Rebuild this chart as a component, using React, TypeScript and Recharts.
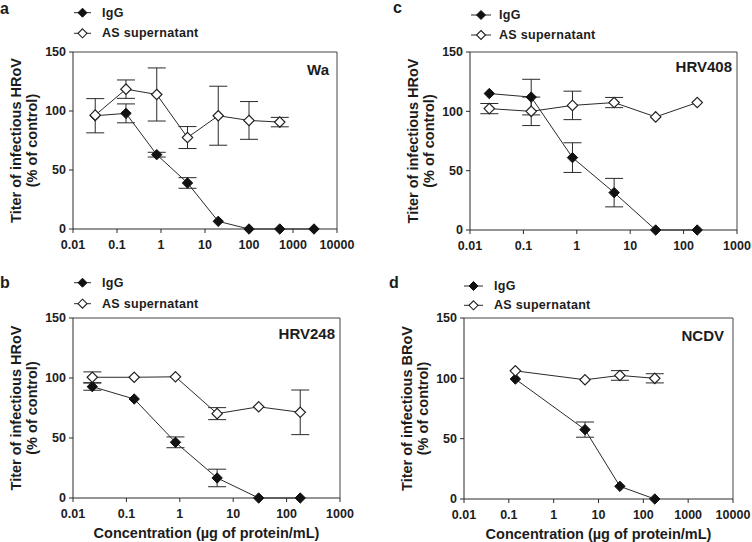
import React from "react";
import { ErrorBar, Line, LineChart, ReferenceLine, XAxis, YAxis } from "recharts";

const FONT = '"Liberation Sans", Arial, Helvetica, sans-serif';
const INK = "#1c1c1c";
const LINE = "#2a2a2a";

// panel a – Wa
const waDose = [0.032, 0.16, 0.8, 4, 20, 100, 500, 3000];
const waIgG = [96, 98, 63, 39, 6.5, 0, 0, 0];
const waIgGErr = [14.5, 8, 2, 4.5, null, null, null, null];
const waAsDose = [0.032, 0.16, 0.8, 4, 20, 100, 500];
const waAs = [96.5, 118.5, 114, 77.5, 96, 92, 90.6];
const waAsErr = [null, 7.8, 22.5, 9.3, 25, 16, 4];

// panel c – HRV408
const h408Dose = [0.023, 0.14, 0.83, 5, 30, 180];
const h408IgG = [115, 112, 61, 31.5, 0, 0];
const h408IgGErr = [null, 15, 12.5, 12, null, null];
const h408As = [102.3, 100, 105, 107.4, 95.3, 107.4];
const h408AsErr = [4.3, 12, 12, 4.3, null, null];

// panel b – HRV248
const h248Dose = [0.023, 0.14, 0.83, 5, 30, 180];
const h248IgG = [92.8, 82.5, 46.4, 16.7, 0, 0];
const h248IgGErr = [3, null, 4.5, 7.3, null, null];
const h248As = [100.6, 100.6, 101, 70.3, 76, 71.4];
const h248AsErr = [4.5, null, null, 5, null, 18.6];

// panel d – NCDV
const ncdvDose = [0.14, 5, 30, 180];
const ncdvIgG = [99.4, 57.5, 10.5, 0];
const ncdvIgGErr = [null, 6.3, null, null];
const ncdvAs = [106.2, 98.8, 102.4, 100];
const ncdvAsErr = [null, null, 4, 3.8];

const ticks10k = [0.01, 0.1, 1, 10, 100, 1000, 10000];
const ticks1k = [0.01, 0.1, 1, 10, 100, 1000];
const yTicks = [0, 50, 100, 150];

const X_TITLE = "Concentration (µg of protein/mL)";

type Row = { x: number; y: number; err?: number };

function rows(dose: number[], val: number[], err: (number | null)[]): Row[] {
  return dose.map((x, i) => ({ x, y: val[i], err: err[i] ?? undefined }));
}

function diamond(cx: number, cy: number, r: number) {
  return `M${cx},${cy - r}L${cx + r},${cy}L${cx},${cy + r}L${cx - r},${cy}Z`;
}

const filledDot = (p: any) => (
  <path key={p.key ?? `f${p.index}`} d={diamond(p.cx, p.cy, 5.2)} fill="#111" stroke="#111" strokeWidth={1} />
);
const openDot = (p: any) => (
  <path key={p.key ?? `o${p.index}`} d={diamond(p.cx, p.cy, 5.2)} fill="#fff" stroke="#222" strokeWidth={1.2} />
);

const tickStyle = { fill: INK, fontSize: 12.5, fontWeight: 700, fontFamily: FONT };

type PanelProps = {
  plot: { l: number; t: number; r: number; b: number };
  xMax: number;
  ticks: number[];
  igg: Row[];
  as: Row[];
  yTitle: string;
  xTitle?: boolean;
};

const RIGHT_PAD = 30;

function Panel({ plot, xMax, ticks, igg, as, yTitle, xTitle }: PanelProps) {
  const left = plot.l - 70;
  const top = plot.t - 10;
  const width = plot.r - left + RIGHT_PAD;
  const height = plot.b - top + 50;
  const plotH = plot.b - plot.t;
  const plotW = plot.r - plot.l;
  return (
    <div style={{ position: "absolute", left, top, width, height }}>
      <LineChart width={width} height={height} margin={{ top: 10, right: RIGHT_PAD, left: 20, bottom: 6 }}>
        <XAxis
          type="number"
          dataKey="x"
          scale="log"
          domain={[0.01, xMax]}
          ticks={ticks}
          interval={0}
          allowDataOverflow
          height={44}
          tick={tickStyle}
          tickSize={4}
          tickMargin={7}
          axisLine={{ stroke: LINE }}
          tickLine={{ stroke: LINE }}
          label={
            xTitle
              ? () => (
                  <text
                    x={70 + plotW / 2}
                    y={10 + plotH + 40}
                    textAnchor="middle"
                    fill={INK}
                    fontSize={14.5}
                    fontWeight={700}
                    fontFamily={FONT}
                  >
                    {X_TITLE}
                  </text>
                )
              : undefined
          }
        />
        <YAxis
          type="number"
          dataKey="y"
          domain={[0, 150]}
          ticks={yTicks}
          interval={0}
          width={50}
          tick={tickStyle}
          tickSize={4}
          tickMargin={3}
          axisLine={{ stroke: LINE }}
          tickLine={{ stroke: LINE }}
          label={() => {
            const cy = 10 + plotH / 2;
            return (
              <g fill={INK} fontSize={14.5} fontWeight={700} fontFamily={FONT}>
                <text x={13} y={cy} textAnchor="middle" dominantBaseline="central" transform={`rotate(-90, 13, ${cy})`}>
                  {yTitle}
                </text>
                <text x={29} y={cy} textAnchor="middle" dominantBaseline="central" transform={`rotate(-90, 29, ${cy})`}>
                  (% of control)
                </text>
              </g>
            );
          }}
        />
        <ReferenceLine y={150} stroke="#444" strokeWidth={1} />
        <ReferenceLine x={xMax} stroke="#444" strokeWidth={1} />
        <Line
          data={igg}
          dataKey="y"
          type="linear"
          stroke={LINE}
          strokeWidth={1}
          dot={filledDot}
          activeDot={false}
          isAnimationActive={false}
        >
          <ErrorBar dataKey="err" direction="y" width={9} stroke={LINE} strokeWidth={1} />
        </Line>
        <Line
          data={as}
          dataKey="y"
          type="linear"
          stroke={LINE}
          strokeWidth={1}
          dot={openDot}
          activeDot={false}
          isAnimationActive={false}
        >
          <ErrorBar dataKey="err" direction="y" width={9} stroke={LINE} strokeWidth={1} />
        </Line>
      </LineChart>
    </div>
  );
}

function LegendBlock({ x, y1, y2, textX }: { x: [number, number]; y1: number; y2: number; textX: number }) {
  const mid = (x[0] + x[1]) / 2;
  const textStyle = { fontSize: 12.5, fontWeight: 700, fontFamily: FONT, fill: INK, letterSpacing: 0.3 } as const;
  return (
    <g>
      <line x1={x[0]} x2={x[1]} y1={y1} y2={y1} stroke={LINE} strokeWidth={1} />
      <path d={diamond(mid, y1, 4.5)} fill="#111" stroke="#111" />
      <text x={textX} y={y1} dominantBaseline="central" {...textStyle}>
        IgG
      </text>
      <line x1={x[0]} x2={x[1]} y1={y2} y2={y2} stroke={LINE} strokeWidth={1} />
      <path d={diamond(mid, y2, 4.5)} fill="#fff" stroke="#222" strokeWidth={1.1} />
      <text x={textX} y={y2} dominantBaseline="central" {...textStyle}>
        AS supernatant
      </text>
    </g>
  );
}

export default function App() {
  const labelStyle = { fontSize: 15, fontWeight: 700, fontFamily: FONT, fill: INK } as const;
  const letterStyle = { fontSize: 16, fontWeight: 700, fontFamily: FONT, fill: INK } as const;
  return (
    <div style={{ position: "absolute", left: 0, top: 0, width: 752, height: 542, background: "#fff", overflow: "hidden" }}>
      <Panel
        plot={{ l: 73, t: 52, r: 337, b: 229 }}
        xMax={10000}
        ticks={ticks10k}
        igg={rows(waDose, waIgG, waIgGErr)}
        as={rows(waAsDose, waAs, waAsErr)}
        yTitle="Titer of infectious HRoV"
      />
      <Panel
        plot={{ l: 470, t: 52, r: 737, b: 230 }}
        xMax={1000}
        ticks={ticks1k}
        igg={rows(h408Dose, h408IgG, h408IgGErr)}
        as={rows(h408Dose, h408As, h408AsErr)}
        yTitle="Titer of infectious HRoV"
      />
      <Panel
        plot={{ l: 73, t: 318, r: 340, b: 498 }}
        xMax={1000}
        ticks={ticks1k}
        igg={rows(h248Dose, h248IgG, h248IgGErr)}
        as={rows(h248Dose, h248As, h248AsErr)}
        yTitle="Titer of infectious HRoV"
        xTitle
      />
      <Panel
        plot={{ l: 464, t: 318, r: 733, b: 499 }}
        xMax={10000}
        ticks={ticks10k}
        igg={rows(ncdvDose, ncdvIgG, ncdvIgGErr)}
        as={rows(ncdvDose, ncdvAs, ncdvAsErr)}
        yTitle="Titer of infectious BRoV"
        xTitle
      />
      <svg width={752} height={542} style={{ position: "absolute", left: 0, top: 0, pointerEvents: "none" }}>
        <text x={0} y={14} {...letterStyle}>a</text>
        <text x={393} y={13} {...letterStyle}>c</text>
        <text x={0} y={288} {...letterStyle}>b</text>
        <text x={389} y={288} {...letterStyle}>d</text>
        <LegendBlock x={[74, 91]} y1={12.7} y2={33.3} textX={102} />
        <LegendBlock x={[471, 491]} y1={15} y2={35} textX={499} />
        <LegendBlock x={[74, 91]} y1={282.7} y2={303.7} textX={102} />
        <LegendBlock x={[464, 483]} y1={286} y2={305.3} textX={494} />
        <text x={329} y={75} textAnchor="end" {...labelStyle}>Wa</text>
        <text x={732} y={72} textAnchor="end" {...labelStyle}>HRV408</text>
        <text x={335} y={339} textAnchor="end" {...labelStyle}>HRV248</text>
        <text x={724} y={341} textAnchor="end" {...labelStyle}>NCDV</text>
      </svg>
    </div>
  );
}
